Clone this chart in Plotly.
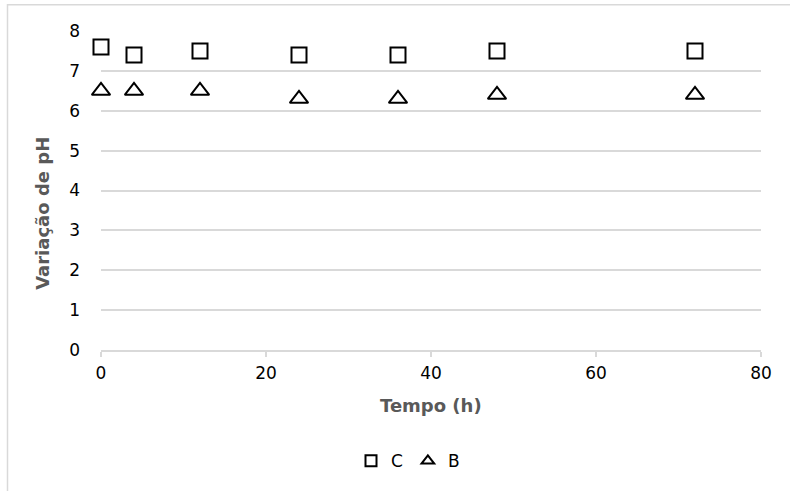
import plotly.graph_objects as go

tempo = [0, 4, 12, 24, 36, 48, 72]
ph_C = [7.6, 7.4, 7.5, 7.4, 7.4, 7.5, 7.5]
ph_B = [6.5, 6.5, 6.5, 6.3, 6.3, 6.4, 6.4]
series_names = ["C", "B"]
x_ticks = [0, 20, 40, 60, 80]
y_ticks = [0, 1, 2, 3, 4, 5, 6, 7, 8]

W, H = 790, 491
L, R, T, B = 101, 29, 31, 139
pw, ph = W - L - R, H - T - B

def px(x):
    return (x - L) / pw

def py(y):
    return (H - B - y) / ph

FONT = "DejaVu Sans"

fig = go.Figure()
fig.add_trace(go.Scatter(x=tempo, y=ph_C, mode="markers", name=series_names[0],
                         showlegend=False, cliponaxis=False,
                         marker=dict(symbol="square-open", size=15, color="#000",
                                     line=dict(width=2, color="#000"))))
fig.add_trace(go.Scatter(x=tempo, y=ph_B, mode="markers", name=series_names[1],
                         showlegend=False, cliponaxis=False,
                         marker=dict(symbol="triangle-up-open", size=16, color="#000",
                                     line=dict(width=2, color="#000"))))
# legend entries (smaller symbols as in the reference legend)
fig.add_trace(go.Scatter(x=[None], y=[None], mode="markers", name=series_names[0],
                         marker=dict(symbol="square-open", size=11, color="#000",
                                     line=dict(width=2, color="#000"))))
fig.add_trace(go.Scatter(x=[None], y=[None], mode="markers", name=series_names[1],
                         marker=dict(symbol="triangle-up-open", size=11, color="#000",
                                     line=dict(width=2, color="#000"))))

fig.update_layout(
    width=W, height=H,
    margin=dict(l=L, r=R, t=T, b=B, pad=0),
    paper_bgcolor="white", plot_bgcolor="white",
    font=dict(family=FONT, size=17, color="#000"),
    showlegend=True,
    legend=dict(orientation="h", x=px(408), xanchor="center", y=py(464), yanchor="middle",
                font=dict(family=FONT, size=17, color="#000"),
                itemwidth=30, tracegroupgap=0, bgcolor="rgba(0,0,0,0)"),
    xaxis=dict(range=[0, 80], tickvals=x_ticks, showgrid=False, zeroline=False,
               showline=True, linecolor="#d9d9d9", linewidth=1.5,
               ticks="outside", ticklen=5, tickcolor="#d9d9d9", tickwidth=1.5,
               tickfont=dict(family=FONT, size=17, color="#000"),
               ticklabelstandoff=2),
    yaxis=dict(range=[0, 8], tickvals=y_ticks, showgrid=True, gridcolor="#d9d9d9",
               gridwidth=1.5, zeroline=False, showline=False, ticks="",
               tickfont=dict(family=FONT, size=17, color="#000"),
               ticklabelstandoff=20),
    annotations=[
        dict(text="<b>Variação de pH</b>", textangle=-90, xref="paper", yref="paper",
             x=px(43), y=py(215), xanchor="center", yanchor="middle", showarrow=False,
             font=dict(family=FONT, size=18, color="#595959")),
        dict(text="<b>Tempo (h)</b>", xref="paper", yref="paper",
             x=0.5, y=py(408), xanchor="center", yanchor="middle", showarrow=False,
             font=dict(family=FONT, size=18, color="#595959")),
    ],
    shapes=[
        dict(type="rect", xref="paper", yref="paper",
             x0=px(7.5), x1=px(805), y0=py(505), y1=py(4.5),
             line=dict(color="#d9d9d9", width=1.5), fillcolor="rgba(0,0,0,0)", layer="below"),
    ],
)

fig.write_html("out.html")
